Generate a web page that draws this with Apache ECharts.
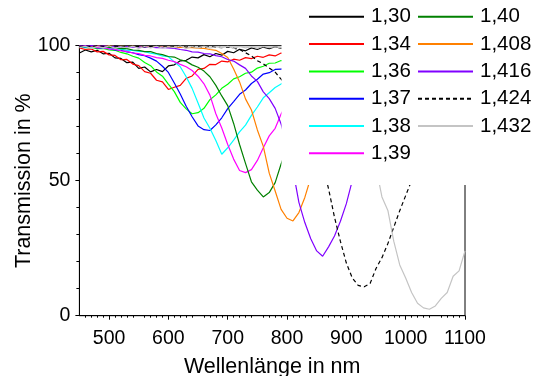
<!DOCTYPE html>
<html>
<head>
<meta charset="utf-8">
<script src="https://cdn.jsdelivr.net/npm/echarts@6/dist/echarts.min.js"></script>
<style>
html,body{margin:0;padding:0;background:#fff;}
#chart{width:533px;height:376px;}
</style>
</head>
<body>
<div id="chart"></div>
<script>
// Wavelength grid (nm)
const wavelengths = [
  450,460,470,480,490,500,510,520,530,540,
  550,560,570,580,590,600,610,620,630,640,
  650,660,670,680,690,700,710,720,730,740,
  750,760,770,780,790,800,810,820,830,840,
  850,860,870,880,890,900,910,920,930,940,
  950,960,970,980,990,1000,1010,1020,1030,1040,
  1050,1060,1070,1080,1090,1100
];

const xTickLabels = [500,600,700,800,900,1000,1100];
const yTickLabels = [0,50,100];

const names = ['1,30','1,34','1,36','1,37','1,38','1,39','1,40','1,408','1,416','1,424','1,432'];

const t130 = [
  97.3,98.4,97.7,98.3,97.0,97.2,95.5,95.3,93.7,93.9,
  91.6,92.1,90.3,91.2,90.4,92.5,92.9,94.4,94.6,95.8,
  95.5,96.7,95.9,97.1,96.5,97.9,97.4,98.7,98.1,99.2,
  98.6,99.5,98.9,99.6,99.0,99.7,99.2,99.8,99.3,99.7,
  99.4,99.8,99.5,99.9,99.5,99.8,99.6,99.9,99.5,99.8,
  99.6,99.9,99.6,99.8,99.7,99.9,99.6,99.8,99.7,99.9,
  99.6,99.8,99.7,99.9,99.7,99.8
];
const t134 = [
  99.2,98.6,98.8,97.7,97.9,96.6,96.4,94.8,94.9,93.2,
  92.6,90.4,89.8,87.2,86.6,83.8,84.6,85.3,87.9,88.8,
  91.2,91.6,93.1,93.0,94.3,94.0,95.0,94.6,95.6,95.2,
  96.1,95.7,96.6,96.2,97.3,96.8,97.8,97.4,98.2,97.9,
  98.5,98.2,98.8,98.5,99.0,98.7,99.2,98.9,99.3,99.1,
  99.4,99.2,99.5,99.3,99.5,99.4,99.6,99.4,99.6,99.5,
  99.6,99.5,99.7,99.5,99.6,99.7
];
const t136 = [
  99.6,99.3,99.4,98.9,99.0,98.4,98.3,97.5,97.0,96.1,
  95.4,93.8,92.6,90.3,88.7,85.8,83.0,79.0,76.6,74.8,
  75.2,76.8,80.0,81.8,84.2,85.7,87.7,88.5,89.8,90.2,
  91.7,92.4,93.5,93.6,94.5,94.4,95.3,95.6,96.2,96.4,
  96.9,97.1,97.5,97.6,98.0,98.1,98.4,98.5,98.7,98.8,
  99.0,99.0,99.2,99.2,99.3,99.4,99.4,99.5,99.5,99.6,
  99.6,99.6,99.7,99.7,99.7,99.8
];
const t137 = [
  99.7,99.5,99.6,99.2,99.1,98.9,98.4,98.3,97.7,97.4,
  96.7,96.3,95.4,94.3,92.4,90.1,86.2,82.1,77.6,73.7,
  70.3,68.9,68.6,70.7,73.3,76.7,79.3,82.0,83.6,86.0,
  87.6,89.5,90.0,91.2,91.3,92.2,93.0,93.9,94.6,95.2,
  95.8,96.3,96.7,97.1,97.4,97.7,98.0,98.2,98.4,98.6,
  98.8,98.9,99.0,99.1,99.2,99.3,99.3,99.4,99.4,99.5,
  99.5,99.6,99.6,99.6,99.7,99.7
];
const t138 = [
  99.7,99.6,99.4,99.5,99.2,99.1,98.8,98.7,98.3,98.3,
  97.9,97.8,97.2,96.9,96.2,95.9,94.0,92.2,88.5,84.2,
  78.8,73.2,69.4,64.9,59.8,62.2,65.0,68.1,70.6,74.2,
  77.3,80.7,82.6,84.5,85.8,87.1,88.6,89.8,91.0,92.0,
  92.9,93.7,94.4,95.0,95.6,96.1,96.5,96.9,97.3,97.6,
  97.9,98.1,98.3,98.5,98.7,98.8,98.9,99.0,99.1,99.2,
  99.3,99.3,99.4,99.4,99.5,99.5
];
const t139 = [
  100.0,99.7,99.8,99.3,99.3,98.8,98.7,98.1,97.9,97.3,
  97.1,96.4,96.2,95.6,95.3,94.6,94.1,93.1,92.2,90.8,
  88.7,85.9,81.7,74.8,69.5,63.4,58.0,53.8,53.0,54.1,
  57.5,62.2,66.6,69.4,74.7,78.8,82.2,85.1,87.5,89.4,
  91.0,92.3,93.4,94.3,95.0,95.6,96.1,96.6,97.0,97.3,
  97.6,97.9,98.1,98.3,98.5,98.7,98.8,98.9,99.0,99.1,
  99.2,99.3,99.3,99.4,99.4,99.5
];
const t140 = [
  100.0,99.9,99.9,99.7,99.7,99.4,99.3,98.9,98.9,98.4,
  98.3,97.8,97.8,97.1,96.7,96.0,95.8,94.8,94.2,92.9,
  92.0,90.6,88.5,85.3,81.4,77.8,71.2,63.4,56.4,49.6,
  46.5,44.0,45.6,49.3,56.2,62.0,68.0,73.5,78.0,82.0,
  85.0,87.5,89.5,91.0,92.3,93.4,94.2,94.9,95.5,96.0,
  96.4,96.7,97.0,97.2,97.4,97.6,97.7,97.8,97.9,98.0,
  98.1,98.2,98.2,98.3,98.3,98.4
];
const t1408 = [
  99.9,100.0,99.8,99.9,99.8,99.9,99.7,99.8,99.7,99.8,
  99.6,99.7,99.6,99.7,99.5,99.6,99.4,99.5,99.3,99.3,
  99.1,99.0,98.6,98.3,97.1,95.6,91.4,86.6,80.3,76.2,
  68.8,62.7,52.8,46.2,39.4,36.1,35.1,38.2,43.8,51.1,
  57.5,63.5,69.0,73.5,77.5,81.0,84.0,86.5,88.5,90.0,
  91.5,92.5,93.5,94.2,94.8,95.3,95.7,96.1,96.4,96.7,
  97.0,97.2,97.4,97.6,97.7,97.8
];
const t1416 = [
  100.0,99.9,100.0,99.8,99.9,99.7,99.8,99.6,99.7,99.5,
  99.6,99.4,99.5,99.3,99.4,99.2,99.0,98.6,98.3,97.7,
  97.6,97.1,97.0,96.3,95.9,94.9,94.3,92.9,91.6,88.8,
  86.8,82.9,80.4,76.8,71.0,63.0,54.0,42.0,34.5,28.5,
  24.0,22.0,25.5,29.5,35.0,41.5,50.0,57.5,64.0,70.0,
  75.0,79.0,82.5,85.5,88.0,90.0,91.5,92.8,93.8,94.5,
  95.0,95.5,95.9,96.2,96.5,96.8
];
const t1424 = [
  99.8,99.9,99.7,99.9,99.8,99.7,99.9,99.6,99.8,99.7,
  99.8,99.6,99.7,99.8,99.5,99.7,99.6,99.8,99.5,99.7,
  99.6,99.4,99.6,99.5,99.3,99.5,99.1,98.6,97.4,96.2,
  94.4,93.3,91.7,90.2,87.6,85.0,82.0,78.5,74.0,69.0,
  63.0,56.0,47.0,36.5,27.5,19.5,14.0,11.2,10.7,11.9,
  17.5,21.5,26.7,32.8,38.9,44.5,50.0,55.5,61.0,66.0,
  70.5,74.5,78.0,81.0,83.5,85.5
];
const t1432 = [
  99.3,99.8,99.0,99.7,99.2,99.9,99.1,99.6,99.3,99.8,
  99.0,99.7,99.2,99.8,99.1,99.6,99.3,99.9,99.0,99.7,
  99.2,99.8,99.1,99.6,99.3,99.8,99.0,99.7,99.2,99.6,
  99.1,99.7,99.3,99.6,99.2,99.5,99.3,99.4,99.2,99.3,
  99.1,99.0,98.8,98.5,98.0,97.2,95.5,92.5,87.0,76.0,
  55.0,44.0,39.0,27.5,18.8,14.0,8.6,4.6,2.9,2.4,
  3.6,6.4,8.6,14.6,16.6,24.0
];

const values = [t130,t134,t136,t137,t138,t139,t140,t1408,t1416,t1424,t1432];
const colors = ['#000000','#ff0000','#00ff00','#0000ff','#00ffff','#ff00ff','#008000','#ff8000','#8000ff','#000000','#c4c4c4'];

const FONT = 'Liberation Sans, Arial, sans-serif';

const series = names.map((n, k) => ({
  name: n,
  type: 'line',
  data: wavelengths.map((w, i) => [w, values[k][i]]),
  showSymbol: false,
  symbol: 'none',
  smooth: false,
  lineStyle: {
    color: colors[k],
    width: 1.2,
    type: n === '1,424' ? [4, 3] : 'solid'
  },
  itemStyle: { color: colors[k] },
  z: 2
}));

const legendCommon = {
  orient: 'vertical',
  padding: 0,
  itemGap: 6.3,
  itemWidth: 55,
  itemHeight: 14,
  top: 6.3,
  selectedMode: false,
  itemStyle: { opacity: 0 },
  textStyle: { fontFamily: FONT, fontSize: 20.5, lineHeight: 20, color: '#000', padding: [0, 0, 0, 2] }
};

const chart = echarts.init(document.getElementById('chart'), null, { renderer: 'canvas' });
chart.setOption({
  animation: false,
  backgroundColor: '#fff',
  grid: {
    left: 79.4, right: 68, top: 45.7, bottom: 60.3,
    containLabel: false,
    outerBoundsMode: 'none',
    show: true, borderColor: '#000', borderWidth: 1, backgroundColor: 'transparent'
  },
  legend: [
    Object.assign({}, legendCommon, { left: 308, data: names.slice(0, 6) }),
    Object.assign({}, legendCommon, { left: 417, data: names.slice(6) })
  ],
  xAxis: {
    type: 'value',
    min: 450, max: 1100, interval: 50,
    name: 'Wellenlänge in nm',
    nameLocation: 'middle',
    nameGap: 40,
    nameMoveOverlap: false,
    nameTextStyle: { fontFamily: FONT, fontSize: 21.5, color: '#000' },
    axisLine: { show: true, onZero: false, lineStyle: { color: '#000', width: 1 } },
    axisTick: { show: true, inside: false, length: 4, customValues: xTickLabels, lineStyle: { color: '#000' } },
    minorTick: { show: true, splitNumber: 5, length: 2, lineStyle: { color: '#000' } },
    axisLabel: { customValues: xTickLabels, margin: 13, fontFamily: FONT, fontSize: 19.5, color: '#000',
      formatter: v => String(v) },
    splitLine: { show: false },
    minorSplitLine: { show: false }
  },
  yAxis: {
    type: 'value',
    min: 0, max: 100, interval: 50,
    name: 'Transmission in %',
    nameLocation: 'middle',
    nameGap: 44,
    nameMoveOverlap: false,
    nameTextStyle: { fontFamily: FONT, fontSize: 21.5, color: '#000' },
    axisLine: { show: true, onZero: false, lineStyle: { color: '#000', width: 1 } },
    axisTick: { show: true, inside: false, length: 4, customValues: yTickLabels, lineStyle: { color: '#000' } },
    minorTick: { show: true, splitNumber: 5, length: 3, lineStyle: { color: '#000' } },
    axisLabel: { customValues: yTickLabels, margin: 9, fontFamily: FONT, fontSize: 19.5, color: '#000',
      formatter: v => String(v) },
    splitLine: { show: false },
    minorSplitLine: { show: false }
  },
  graphic: {
    elements: [{
      type: 'rect',
      z: 3,
      shape: { x: 281.5, y: 0, width: 252, height: 185 },
      style: { fill: '#ffffff' }
    }]
  },
  series: series
});
</script>
</body>
</html>
